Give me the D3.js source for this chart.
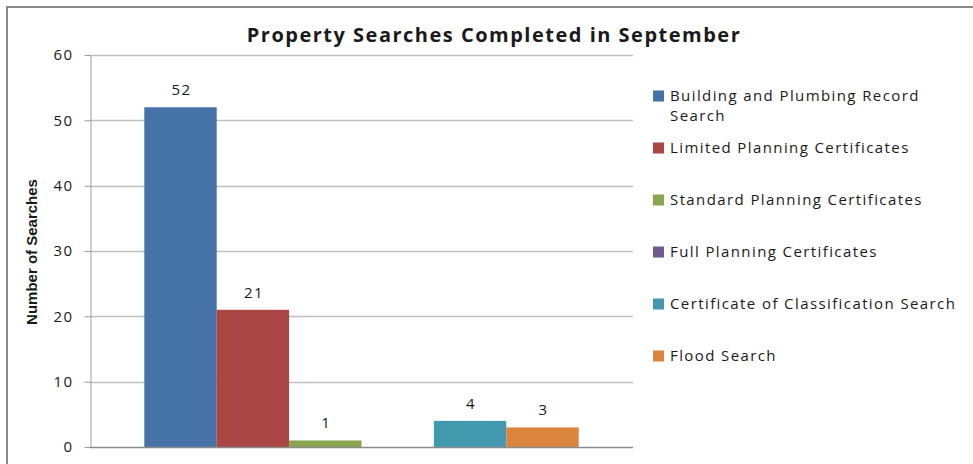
<!DOCTYPE html>
<html lang="en">
<head>
    <meta charset="UTF-8">
    <title>Property Searches Completed in September</title>
    <style>
        body { margin: 0; background: #fff; }
        svg text { font-family: "Open Sans", sans-serif; fill: #1a1a1a; letter-spacing: 1.4px; }
        .grid line { stroke: #c0c0c0; stroke-width: 1.3px; }
        .axis path, .axis line { stroke: #9a9a9a; }
    </style>
</head>
<body>
<div id="chart"></div>

<script src="https://cdn.jsdelivr.net/npm/d3@7"></script>
<script>
    // data
    const categories = ["September"];
    const seriesNames = [
        "Building and Plumbing Record Search",
        "Limited Planning Certificates",
        "Standard Planning Certificates",
        "Full Planning Certificates",
        "Certificate of Classification Search",
        "Flood Search"
    ];
    const seriesValues = [52, 21, 1, 0, 4, 3];
    const seriesColors = ["#4572a7", "#aa4643", "#89a54e", "#71588f", "#4198af", "#db843d"];
    const yTicks = [0, 10, 20, 30, 40, 50, 60];

    const W = 973, H = 464;
    const plot = { left: 90, right: 633, top: 55, bottom: 447 };

    const svg = d3.select("#chart").append("svg")
        .attr("width", W)
        .attr("height", H);

    // outer chart border
    svg.append("rect")
        .attr("x", 7).attr("y", 7)
        .attr("width", W + 10).attr("height", H + 10)
        .attr("fill", "none")
        .attr("stroke", "#8a8a8a")
        .attr("stroke-width", 2);

    const y = d3.scaleLinear().domain([0, 60]).range([plot.bottom, plot.top]);
    const x0 = d3.scaleBand().domain(categories).range([plot.left, plot.right]).padding(0);
    const x1 = d3.scaleBand().domain(seriesNames).range([0, x0.bandwidth()])
        .paddingInner(0).paddingOuter(0.75);

    // gridlines
    svg.append("g")
        .attr("class", "grid")
        .selectAll("line")
        .data(yTicks.filter(d => d > 0))
        .join("line")
        .attr("x1", plot.left).attr("x2", plot.right)
        .attr("y1", d => Math.round(y(d)) + 0.5)
        .attr("y2", d => Math.round(y(d)) + 0.5);

    // y axis
    const yAxis = svg.append("g")
        .attr("class", "axis")
        .attr("transform", "translate(" + (plot.left + 0.5) + ",0)")
        .call(d3.axisLeft(y).tickValues(yTicks).tickSize(6).tickSizeOuter(0).tickPadding(11));
    yAxis.selectAll("text")
        .style("font-size", "15px")
        .style("font-family", "'Open Sans', sans-serif")
        .attr("fill", "#1a1a1a");

    // bars
    const group = svg.append("g")
        .selectAll("g")
        .data(categories)
        .join("g")
        .attr("transform", d => "translate(" + x0(d) + ",0)");

    group.selectAll("rect")
        .data(seriesNames.map((s, i) => ({ name: s, value: seriesValues[i], color: seriesColors[i] })))
        .join("rect")
        .attr("x", d => x1(d.name))
        .attr("y", d => y(d.value))
        .attr("width", x1.bandwidth())
        .attr("height", d => y(0) - y(d.value))
        .attr("fill", d => d.color);

    // data labels (zero has no label)
    group.selectAll("text.lbl")
        .data(seriesNames.map((s, i) => ({ name: s, value: seriesValues[i] })).filter(d => d.value > 0))
        .join("text")
        .attr("class", "lbl")
        .attr("x", d => x1(d.name) + x1.bandwidth() / 2 + 1)
        .attr("y", d => y(d.value) - 12)
        .attr("text-anchor", "middle")
        .style("font-size", "15px")
        .text(d => d.value);

    // x axis baseline
    svg.append("line")
        .attr("x1", plot.left).attr("x2", plot.right)
        .attr("y1", y(0) + 0.5).attr("y2", y(0) + 0.5)
        .attr("stroke", "#8c8c8c")
        .attr("stroke-width", 1.3);

    // title
    svg.append("text")
        .attr("x", 494)
        .attr("y", 42)
        .attr("text-anchor", "middle")
        .style("font-size", "20px")
        .style("font-weight", "bold")
        .style("letter-spacing", "1.5px")
        .text("Property Searches Completed in September");

    // y axis title
    svg.append("text")
        .attr("transform", "translate(37,252) rotate(-90)")
        .attr("text-anchor", "middle")
        .style("font-family", "'Liberation Sans Narrow', 'Arial Narrow', sans-serif")
        .style("font-size", "15px")
        .style("font-weight", "bold")
        .style("letter-spacing", "0px")
        .text("Number of Searches");

    // legend
    const legend = svg.append("g")
        .selectAll("g")
        .data(seriesNames)
        .join("g")
        .attr("transform", (d, i) => "translate(653," + (96 + i * 52) + ")");

    legend.append("rect")
        .attr("x", 0).attr("y", -5.5)
        .attr("width", 11).attr("height", 11)
        .attr("fill", (d, i) => seriesColors[i]);

    legend.append("text")
        .attr("x", 17)
        .attr("y", 5)
        .style("font-size", "15px")
        .each(function (d) {
            const t = d3.select(this);
            if (d === "Building and Plumbing Record Search") {
                t.append("tspan").attr("x", 17).text("Building and Plumbing Record");
                t.append("tspan").attr("x", 17).attr("dy", 20).text("Search");
            } else {
                t.text(d);
            }
        });
</script>
</body>
</html>
